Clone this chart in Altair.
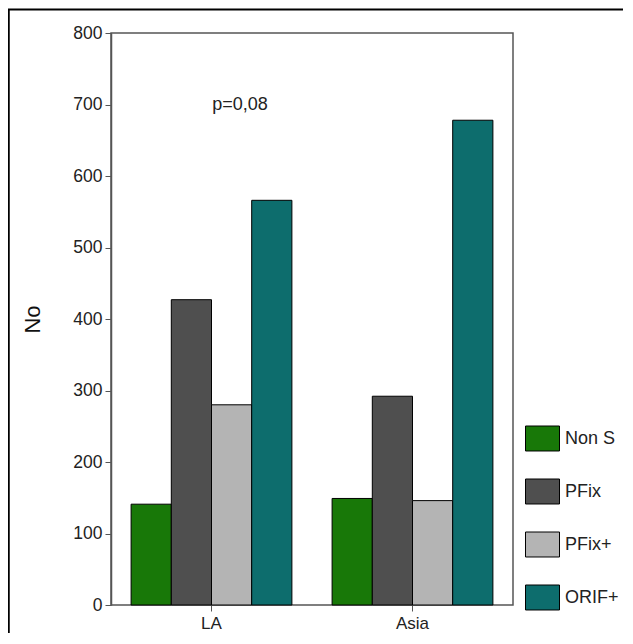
import altair as alt
import pandas as pd

regions = ["LA", "Asia"]
types = ["Non S", "PFix", "PFix+", "ORIF+"]
la_values = [141, 427, 280, 566]
asia_values = [149, 292, 146, 678]
colors = ["#187808", "#4f4f4f", "#b4b4b4", "#0d6d6d"]
y_ticks = [0, 100, 200, 300, 400, 500, 600, 700, 800]
annotation = "p=0,08"

rows = []
for t, v in zip(types, la_values):
    rows.append({"Region": "LA", "Type": t, "No": v})
for t, v in zip(types, asia_values):
    rows.append({"Region": "Asia", "Type": t, "No": v})
df = pd.DataFrame(rows)

FONT = "Liberation Sans"

bars = alt.Chart(df).mark_bar(stroke="black", strokeWidth=1, opacity=1).encode(
    x=alt.X("Region:N", sort=regions, title=None,
            scale=alt.Scale(paddingInner=0.2, paddingOuter=0.1),
            axis=alt.Axis(labelAngle=0, labelFontSize=17, labelFont=FONT, labelColor="#222",
                          tickSize=6, tickColor="#555", domain=False, labelPadding=4)),
    xOffset=alt.XOffset("Type:N", sort=types, scale=alt.Scale(paddingInner=0, paddingOuter=0)),
    y=alt.Y("No:Q", title="No", scale=alt.Scale(domain=[0, 800], nice=False),
            axis=alt.Axis(values=y_ticks, grid=False, labelFontSize=17.5, labelFont=FONT,
                          labelColor="#222", tickSize=6, tickColor="#555", domainColor="#555",
                          domainWidth=1.5, labelPadding=3, titleFontSize=22, titleFont=FONT,
                          titleFontWeight="normal", titleColor="#111", titlePadding=28)),
    color=alt.Color("Type:N", sort=types, scale=alt.Scale(domain=types, range=colors),
                    legend=alt.Legend(title=None, orient="none", legendX=414, legendY=388,
                                      symbolType="M-1,-0.735H1V0.735H-1Z", symbolSize=1156,
                                      symbolStrokeColor="black", symbolStrokeWidth=1,
                                      symbolOpacity=1, labelFontSize=18, labelFont=FONT,
                                      labelColor="#222", rowPadding=21, labelOffset=5)),
)

text = alt.Chart(pd.DataFrame({"label": [annotation], "val": [700]})).mark_text(
    fontSize=18, font=FONT, color="#222", align="center", baseline="middle"
).encode(x=alt.value(129), y=alt.Y("val:Q"), text="label:N")

frame_top = alt.Chart(pd.DataFrame({"a": [0]})).mark_rule(color="black", strokeWidth=2).encode(
    x=alt.value(-103), x2=alt.value(520), y=alt.value(-23.5))
frame_left = alt.Chart(pd.DataFrame({"a": [0]})).mark_rule(color="black", strokeWidth=2.5).encode(
    x=alt.value(-102.5), y=alt.value(-24), y2=alt.value(600))

chart = alt.layer(bars, text, frame_top, frame_left).properties(
    width=402, height=572,
    autosize=alt.AutoSizeParams(type="none"),
    padding={"left": 103, "top": 25, "right": 110, "bottom": 30},
    background="white",
).configure_view(stroke="#555", strokeWidth=1.5)

chart.save("out.html", embed_options={"renderer": "svg", "actions": False})
